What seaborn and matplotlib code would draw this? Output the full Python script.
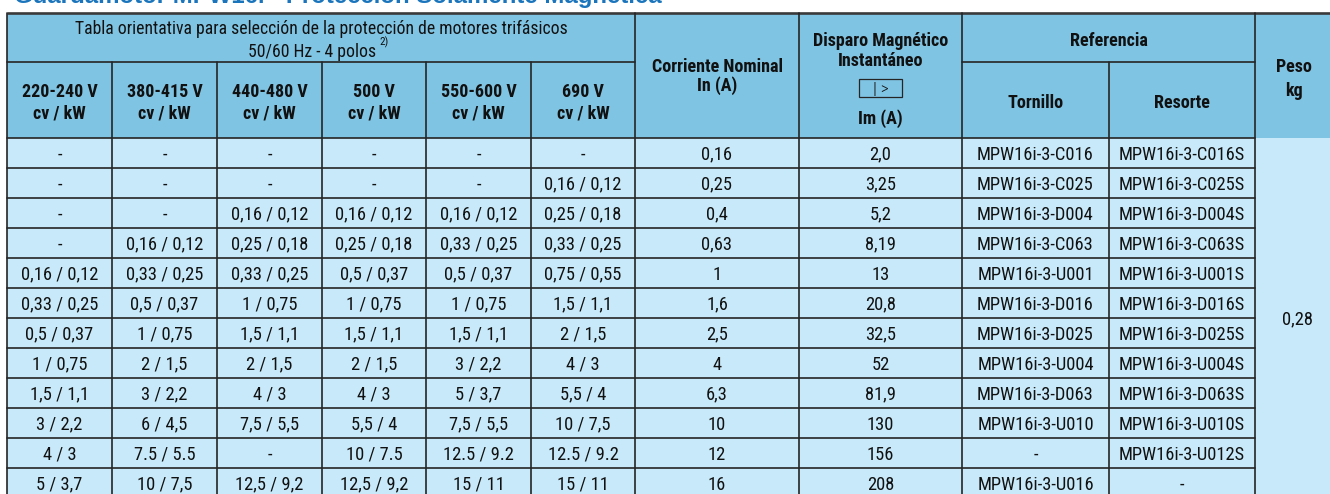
import matplotlib
matplotlib.use("Agg")
import matplotlib.pyplot as plt
from matplotlib import font_manager as fm
import seaborn as sns
import pandas as pd
from matplotlib.patches import Rectangle

# ---------------- data ----------------
title_text = "Guardamotor MPW16i - Protección Solamente Magnética"
group_title = "Tabla orientativa para selección de la protección de motores trifásicos"
group_sub = "50/60 Hz - 4 polos"
group_sup = "2)"
voltage_headers = ["220-240 V", "380-415 V", "440-480 V", "500 V", "550-600 V", "690 V"]
unit_header = "cv / kW"
in_header = ["Corriente Nominal", "In (A)"]
im_header = ["Disparo Magnético", "Instantáneo", "Im (A)"]
ref_header = "Referencia"
ref_sub = ["Tornillo", "Resorte"]
peso_header = ["Peso", "kg"]

v220 = ["-", "-", "-", "-", "0,16 / 0,12", "0,33 / 0,25", "0,5 / 0,37", "1 / 0,75",
        "1,5 / 1,1", "3 / 2,2", "4 / 3", "5 / 3,7"]
v380 = ["-", "-", "-", "0,16 / 0,12", "0,33 / 0,25", "0,5 / 0,37", "1 / 0,75", "2 / 1,5",
        "3 / 2,2", "6 / 4,5", "7.5 / 5.5", "10 / 7,5"]
v440 = ["-", "-", "0,16 / 0,12", "0,25 / 0,18", "0,33 / 0,25", "1 / 0,75", "1,5 / 1,1",
        "2 / 1,5", "4 / 3", "7,5 / 5,5", "-", "12,5 / 9,2"]
v500 = ["-", "-", "0,16 / 0,12", "0,25 / 0,18", "0,5 / 0,37", "1 / 0,75", "1,5 / 1,1",
        "2 / 1,5", "4 / 3", "5,5 / 4", "10 / 7.5", "12,5 / 9,2"]
v550 = ["-", "-", "0,16 / 0,12", "0,33 / 0,25", "0,5 / 0,37", "1 / 0,75", "1,5 / 1,1",
        "3 / 2,2", "5 / 3,7", "7,5 / 5,5", "12.5 / 9.2", "15 / 11"]
v690 = ["-", "0,16 / 0,12", "0,25 / 0,18", "0,33 / 0,25", "0,75 / 0,55", "1,5 / 1,1",
        "2 / 1,5", "4 / 3", "5,5 / 4", "10 / 7,5", "12.5 / 9.2", "15 / 11"]
in_a = ["0,16", "0,25", "0,4", "0,63", "1", "1,6", "2,5", "4", "6,3", "10", "12", "16"]
im_a = ["2,0", "3,25", "5,2", "8,19", "13", "20,8", "32,5", "52", "81,9", "130", "156", "208"]
tornillo = ["MPW16i-3-C016", "MPW16i-3-C025", "MPW16i-3-D004", "MPW16i-3-C063",
            "MPW16i-3-U001", "MPW16i-3-D016", "MPW16i-3-D025", "MPW16i-3-U004",
            "MPW16i-3-D063", "MPW16i-3-U010", "-", "MPW16i-3-U016"]
resorte = ["MPW16i-3-C016S", "MPW16i-3-C025S", "MPW16i-3-D004S", "MPW16i-3-C063S",
           "MPW16i-3-U001S", "MPW16i-3-D016S", "MPW16i-3-D025S", "MPW16i-3-U004S",
           "MPW16i-3-D063S", "MPW16i-3-U010S", "MPW16i-3-U012S", "-"]
peso = "0,28"

table = pd.DataFrame({
    "v220": v220, "v380": v380, "v440": v440, "v500": v500, "v550": v550,
    "v690": v690, "in": in_a, "im": im_a, "tornillo": tornillo, "resorte": resorte,
})

# ---------------- style ----------------
sns.set_theme(style="white")

# pick a condensed face if one is installed, otherwise a regular one at a smaller size
entries = fm.fontManager.ttflist
FAMILY, STRETCH, SCALE = "Liberation Sans", "normal", 0.86
for fam, st in [("Liberation Sans Narrow", None), ("Roboto Condensed", None),
                ("Open Sans Condensed", None), ("Noto Sans Condensed", None),
                ("DejaVu Sans", "condensed"), ("Noto Sans", "condensed"),
                ("Roboto", "condensed"), ("Open Sans", "condensed")]:
    hit = [f for f in entries if f.name == fam and (st is None or f.stretch == st)]
    if hit:
        FAMILY, STRETCH, SCALE = fam, (st or "normal"), 1.0
        if fam.startswith("DejaVu"):
            SCALE = 0.92
        break
plt.rcParams["font.family"] = [FAMILY, "DejaVu Sans"]

header_col = "#80C4E3"
data_col = "#C8E9F9"
line_col = "#252525"
title_col = "#1B75BC"
text_col = "#111111"

W, H = 1330, 494
fig = plt.figure(figsize=(W / 100, H / 100), dpi=100)
ax = fig.add_axes([0, 0, 1, 1])
ax.set_xlim(0, W)
ax.set_ylim(H, 0)
ax.axis("off")

col_edges = [7, 112, 217, 322, 426, 531, 635, 799, 962, 1109, 1255, 1339]
top, split, hbot, row_h = 13, 62, 138, 30.0
n_rows = len(table)
bottom = hbot + row_h * n_rows
centers = [(col_edges[i] + col_edges[i + 1]) / 2 for i in range(len(col_edges) - 1)]

# backgrounds
ax.add_patch(Rectangle((col_edges[0], top), W + 20 - col_edges[0], hbot - top,
                       facecolor=header_col, edgecolor="none", zorder=0))
ax.add_patch(Rectangle((col_edges[0], hbot), W + 20 - col_edges[0], bottom - hbot,
                       facecolor=data_col, edgecolor="none", zorder=0))

lw = 1.2
ax.plot([col_edges[0], W + 5], [top, top], color="#3a3a3a", lw=1.9, zorder=3,
        solid_capstyle="butt")
ax.plot([col_edges[0], col_edges[0]], [top, bottom + 5], color=line_col, lw=lw, zorder=3)
for x in col_edges[1:-1]:
    y0 = split if x in (112, 217, 322, 426, 531, 1109) else top
    ax.plot([x, x], [y0, bottom + 5], color=line_col, lw=lw, zorder=3)
ax.plot([col_edges[0], 635], [split, split], color=line_col, lw=lw, zorder=3)
ax.plot([962, 1255], [split, split], color=line_col, lw=lw, zorder=3)
for k in range(n_rows):
    y = hbot + row_h * k
    ax.plot([col_edges[0], 1255], [y, y], color=line_col, lw=lw, zorder=3)

CAP = 0.72


def put(x, yc, s, size=13, weight="normal", color=text_col, ha="center"):
    size = size * SCALE
    cap_px = size * CAP * 100 / 72
    ax.text(x, yc + cap_px / 2, s, ha=ha, va="baseline", fontsize=size,
            fontweight=weight, fontstretch=STRETCH, color=color, zorder=4)
    return cap_px


# title (cut by the top edge, as in the reference)
ax.text(14, 3, title_text, ha="left", va="baseline", fontsize=17.3, fontweight="bold",
        color=title_col, family=["Liberation Sans", "DejaVu Sans"], zorder=4)

# header texts
gx = (col_edges[0] + 635) / 2
put(gx, 28, group_title, size=12.7)
cap_px = 12.7 * SCALE * CAP * 100 / 72
ax.text(376, 51 + cap_px / 2, group_sub, ha="right", va="baseline", fontsize=12.7 * SCALE,
        fontstretch=STRETCH, color=text_col, zorder=4)
ax.text(379, 45, group_sup, ha="left", va="baseline", fontsize=8 * SCALE,
        fontstretch=STRETCH, color=text_col, zorder=4)

for i, v in enumerate(voltage_headers):
    put(centers[i], 90, v, size=13, weight="bold")
    put(centers[i], 112, unit_header, size=13, weight="bold")

put(centers[6], 66, in_header[0], size=13, weight="bold")
put(centers[6], 84, in_header[1], size=13, weight="bold")

put(centers[7], 40, im_header[0], size=13, weight="bold")
put(centers[7], 60, im_header[1], size=13, weight="bold")
ax.add_patch(Rectangle((859, 79), 43, 18, facecolor="none", edgecolor=line_col,
                       lw=0.9, zorder=4))
put(880.5, 88, "| >", size=12.5, weight="light")
put(centers[7], 117, im_header[2], size=13, weight="bold")

put((962 + 1255) / 2, 40, ref_header, size=13, weight="bold")
put(centers[8], 101, ref_sub[0], size=13, weight="bold")
put(centers[9], 101, ref_sub[1], size=13, weight="bold")

put(1294, 65, peso_header[0], size=13, weight="bold")
put(1294, 89, peso_header[1], size=13, weight="bold")

for r, row in enumerate(table.itertuples(index=False)):
    yc = hbot + row_h * r + row_h / 2
    for c, val in enumerate(row):
        put(centers[c], yc, val, size=13.3)

put(centers[10], (hbot + bottom) / 2, peso, size=13.3)

fig.savefig("out.png", dpi=100)
